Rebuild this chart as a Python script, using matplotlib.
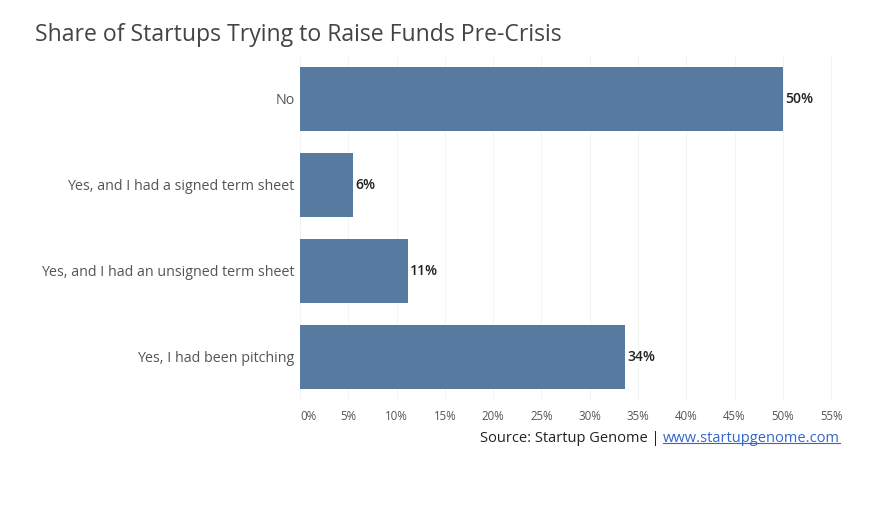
import matplotlib
matplotlib.use("Agg")
import matplotlib.pyplot as plt

categories = ["No", "Yes, and I had a signed term sheet",
              "Yes, and I had an unsigned term sheet", "Yes, I had been pitching"]
values = [50, 5.5, 11.2, 33.7]
labels = ["50%", "6%", "11%", "34%"]
xticks = [0, 5, 10, 15, 20, 25, 30, 35, 40, 45, 50, 55]

plt.rcParams['font.family'] = ['Open Sans', 'DejaVu Sans']

fig = plt.figure(figsize=(8.96, 5.09), dpi=100)
ax = fig.add_axes([300/896, 1-400/509, 535/896, 344/509])

ypos = list(range(len(categories)))
ax.barh(ypos, values, height=0.744, color='#577aa0', zorder=2)
for y, v, l in zip(ypos, values, labels):
    ax.text(v + 0.2, y, l, va='center', ha='left', fontsize=10,
            color='#222222', fontweight='semibold')

ax.set_ylim(3.5, -0.5)
ax.set_xlim(0, 55.4)
ax.set_yticks(ypos)
ax.set_yticklabels(categories, fontsize=10.3, color='#555555')
ax.set_xticks(xticks)
ax.set_xticklabels([f"{t}%" for t in xticks], fontsize=8.3, color='#555555')
ax.get_xticklabels()[0].set_ha('left')
ax.tick_params(length=0, pad=4)
ax.tick_params(axis='x', pad=7)
ax.grid(axis='x', color='#f4f4f4', linewidth=0.8, zorder=0)
for s in ax.spines.values():
    s.set_visible(False)

fig.text(35/896, 1-35/509, "Share of Startups Trying to Raise Funds Pre-Crisis",
         fontsize=16.6, color='#444444', va='center', ha='left')
link = fig.text(840/896, 1-438/509, "www.startupgenome.com", fontsize=10.5,
                color='#3366cc', va='center', ha='right')
fig.canvas.draw()
bb = link.get_window_extent().transformed(fig.transFigure.inverted())
fig.text(bb.x0, 1-438/509, "Source: Startup Genome | ", fontsize=10.5,
         color='#222222', va='center', ha='right')
fig.add_artist(plt.Line2D([bb.x0, bb.x1], [bb.y0 + 0.004, bb.y0 + 0.004],
                          color='#3366cc', linewidth=0.8))
fig.savefig("out.png", dpi=100)
